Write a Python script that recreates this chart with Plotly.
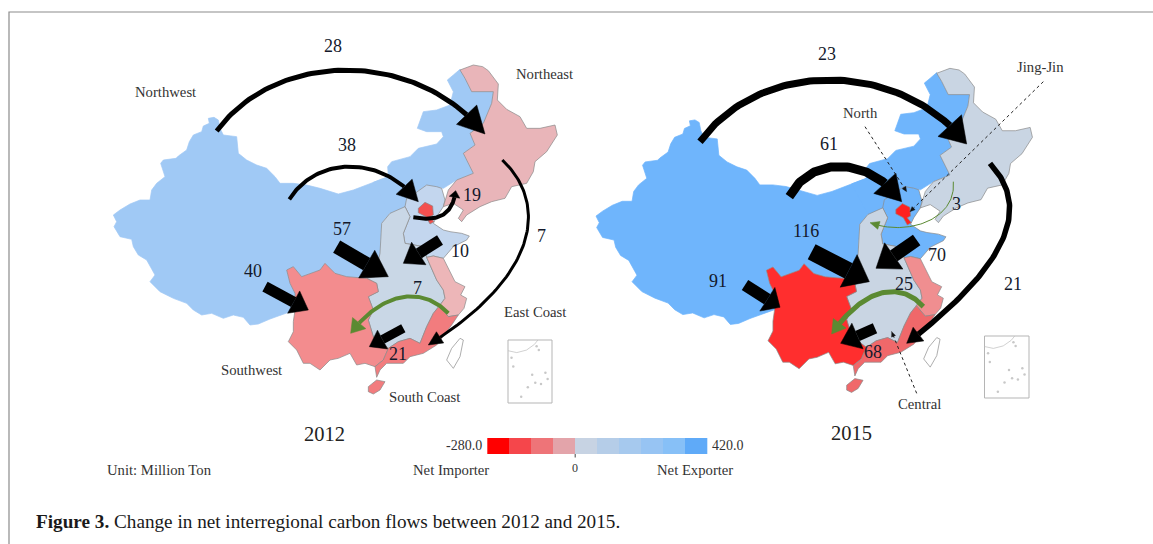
import numpy as np
import plotly.graph_objects as go

# ---------- region outlines (2012 panel, 3x crop units) ----------
northwest = [(372,292),(355,295),(358,310),(340,318),(335,335),(310,345),(298,365),(290,390),(265,408),(258,415),(220,420),(212,430),(225,470),(200,490),(185,510),(180,540),(150,540),(120,552),(90,570),(70,585),(80,605),(72,620),(90,650),(125,658),(130,680),(145,705),(170,720),(195,765),(180,785),(210,815),(250,835),(290,850),(310,870),(335,885),(365,880),(400,895),(430,885),(460,892),(480,915),(505,912),(540,897),(590,878),(615,870),(615,820),(600,790),(590,750),(610,740),(635,770),(665,760),(690,750),(705,730),(735,760),(770,770),(830,775),(855,770),(870,700),(875,610),(900,580),(945,560),(950,535),(895,470),(870,480),(830,495),(790,510),(745,522),(690,505),(650,495),(610,490),(570,490),(555,470),(530,445),(500,435),(470,420),(445,400),(440,350),(400,345),(390,325),(385,300)]
inner_mongolia = [(850,487),(895,470),(893,440),(905,425),(960,410),(985,385),(1040,372),(1060,350),(1055,335),(1010,335),(982,325),(1000,275),(1040,270),(1080,255),(1090,215),(1072,180),(1090,165),(1110,148),(1125,175),(1145,215),(1210,215),(1205,250),(1180,310),(1140,340),(1155,375),(1120,400),(1150,460),(1100,480),(1060,505),(1010,495),(975,520),(950,535),(945,560),(900,580)]
northeast = [(1110,150),(1150,135),(1178,140),(1195,152),(1225,192),(1222,240),(1250,268),(1290,290),(1310,325),(1350,325),(1395,315),(1402,345),(1370,395),(1335,425),(1330,455),(1310,490),(1265,500),(1245,535),(1205,545),(1170,560),(1130,585),(1115,605),(1105,595),(1120,570),(1090,550),(1060,560),(1075,510),(1100,480),(1150,460),(1120,400),(1155,375),(1140,340),(1180,310),(1205,250),(1210,215),(1145,215),(1125,175)]
hebei_shandong = [(950,535),(975,520),(1010,495),(1040,500),(1055,505),(1065,540),(1060,560),(1040,590),(1030,610),(1060,630),(1080,635),(1115,640),(1138,648),(1130,660),(1090,680),(1060,715),(1030,708),(1010,712),(1000,680),(945,670),(940,640),(960,590),(945,560)]
jingjin = [(985,565),(1005,547),(1028,558),(1030,585),(1020,590),(1032,605),(1020,612),(1008,590),(985,578)]
central = [(875,610),(900,580),(945,560),(960,590),(940,640),(945,670),(1000,680),(1010,712),(1040,780),(1060,810),(1065,835),(1048,858),(1030,880),(1010,920),(990,970),(960,955),(925,965),(895,985),(850,950),(835,900),(850,870),(835,830),(865,815),(860,790),(830,775),(855,770),(870,700)]
east_coast = [(1010,712),(1030,708),(1060,715),(1075,745),(1095,785),(1125,800),(1112,825),(1130,835),(1122,865),(1105,885),(1075,890),(1048,858),(1065,835),(1060,810),(1040,780)]
southwest = [(590,750),(610,740),(635,770),(665,760),(690,750),(705,730),(735,760),(770,770),(830,775),(860,790),(865,815),(835,830),(850,870),(835,900),(850,950),(895,985),(880,1020),(855,1040),(825,1030),(800,1035),(780,1000),(745,1015),(720,1020),(690,1050),(660,1030),(640,1030),(620,990),(595,965),(610,935),(610,905),(615,870),(615,820),(600,790)]
south_coast = [(1030,880),(1048,858),(1075,890),(1105,885),(1085,915),(1060,950),(1040,975),(1000,1000),(960,1010),(940,1030),(890,1030),(870,1050),(860,1072),(855,1040),(880,1020),(895,985),(925,965),(960,955),(990,970),(1010,920)]
hainan = [(835,1100),(860,1080),(885,1085),(870,1110),(850,1122),(835,1115)]
taiwan = [(1110,955),(1120,960),(1110,1010),(1090,1045),(1070,1020),(1085,985)]

regions = dict(northwest=northwest, inner_mongolia=inner_mongolia, hebei_shandong=hebei_shandong,
               central=central, northeast=northeast, east_coast=east_coast, southwest=southwest,
               south_coast=south_coast, hainan=hainan, jingjin=jingjin)

colors_2012 = dict(northwest="#a0c9f5", inner_mongolia="#a0c9f5", hebei_shandong="#c3d6ee", central="#c9d7e6",
                   northeast="#e9b5b9", east_coast="#edb6b8", southwest="#f38c8e", south_coast="#f27c7e",
                   hainan="#f27c7e", jingjin="#f4504f")
colors_2015 = dict(northwest="#6fb5fc", inner_mongolia="#6fb5fc", hebei_shandong="#6fb5fc", central="#c9d5e3",
                   northeast="#c9d5e3", east_coast="#f08e90", southwest="#ff2e2e", south_coast="#f0686a",
                   hainan="#f0686a", jingjin="#ff2020")
borderless = {"northwest", "inner_mongolia"}

# ---------- flows: (label, path in 3x crop units, width px, head length, head half-width, colour) ----------
BLACK, GREEN = "#000000", "#5b8a32"
flows_2012 = [
    ("28", [(380,333),(560,88),(980,88),(1185,342)], 5, 80, 42, BLACK),
    ("38", [(598,538),(680,406),(880,406),(985,545)], 4, 62, 33, BLACK),
    ("19", [(970,592),(1060,610),(1090,570),(1097,512)], 4, 20, 16, BLACK),
    ("7",  [(1237,420),(1365,540),(1365,755),(1015,975)], 3, 42, 20, BLACK),
    ("57", [(740,680),(895,770)], 14, 75, 48, BLACK),
    ("10", [(1050,660),(940,730)], 11, 55, 40, BLACK),
    ("40", [(525,800),(655,870)], 11, 50, 38, BLACK),
    ("21", [(940,925),(838,980)], 9, 45, 32, BLACK),
    ("7",  [(1075,880),(1000,800),(880,810),(782,940)], 4, 40, 26, GREEN),
]
flows_2015 = [
    ("23", [(330,365),(510,117),(930,117),(1130,372)], 7, 75, 48, BLACK),
    ("61", [(598,530),(660,407),(840,407),(935,545)], 9, 75, 45, BLACK),
    ("116",[(665,695),(838,785)], 17, 70, 55, BLACK),
    ("70", [(980,660),(858,745)], 13, 65, 48, BLACK),
    ("91", [(465,795),(570,862)], 12, 45, 42, BLACK),
    ("68", [(855,925),(752,970)], 11, 55, 42, BLACK),
    ("21", [(1200,430),(1302,540),(1302,700),(950,970)], 5.5, 45, 26, BLACK),
    ("25", [(1000,860),(940,790),(830,790),(725,942)], 5, 40, 24, GREEN),
    ("3",  [(1090,485),(1100,600),(950,650),(840,608)], 1, 28, 12, GREEN),
]
leaders_2015 = [[(825,320),(950,515)], [(1360,185),(960,575)], [(980,1120),(905,935)]]

# ---------- colour legend ----------
legend_edges = [-280,-210,-140,-70,0,70,140,210,280,350,420]
legend_colors = ["#ff0000","#f5464b","#ee7478","#e3a4aa","#c7d3e3","#b5cde8","#a6c9ee","#97c4f3","#87c0f7","#5faaf8"]

# ---------- text ----------
NUM = "#14192b"
LAB = "#333333"
labels_2012 = [("28",730,78),("38",770,375),("19",1145,525),("57",755,627),("10",1110,692),("7",1355,648),("40",490,752),("7",982,805),("21",925,1002)]
names_2012 = [("Northwest",225,215),("Northeast",1363,163),("East Coast",1335,875),("Southwest",485,1050),("South Coast",1003,1132)]
labels_2015 = [("23",712,103),("61",717,372),("116",648,632),("91",384,782),("70",1042,706),("25",942,793),("3",1100,553),("21",1270,792),("68",848,995)]
names_2015 = [("North",810,280),("Jing-Jin",1352,140),("Central",988,1153)]

def p12(pts):
    a = np.array(pts, float)
    return a[:,0]/3 + 90, a[:,1]/3 + 20

def map15(pts):
    a = np.array(pts, float)
    return (18 + 0.983*(a[:,0]-70))/3 + 590, (145 + 0.985*(a[:,1]-135))/3 + 20

def p15(pts):
    a = np.array(pts, float)
    return a[:,0]/3 + 590, a[:,1]/3 + 20

def curve(pts, n=80):
    pts = np.array(pts, float)
    if len(pts) == 2:
        return pts
    t = np.linspace(0, 1, n)[:,None]
    return ((1-t)**3)*pts[0] + 3*((1-t)**2)*t*pts[1] + 3*(1-t)*t*t*pts[2] + (t**3)*pts[3]

fig = go.Figure()

def poly(x, y, fill, line="#8a8a8a", w=0.7):
    fig.add_trace(go.Scatter(x=list(x), y=list(y), mode="lines", fill="toself", fillcolor=fill,
                             line=dict(color=line, width=w), hoverinfo="skip", showlegend=False))

def draw_map(conv, colors):
    for k, pts in regions.items():
        x, y = conv(pts)
        line = colors[k] if k in borderless else "#8a8a8a"
        poly(np.r_[x, x[0]], np.r_[y, y[0]], colors[k], line)
    x, y = conv(taiwan)
    poly(np.r_[x, x[0]], np.r_[y, y[0]], "#ffffff", "#999999", 0.8)

def draw_flow(conv, flow):
    _, path, width, hl, hw, col = flow
    x, y = conv(path)
    s = curve(np.c_[x, y])
    hl, hw = hl/3, hw/3
    d = np.r_[0, np.cumsum(np.hypot(*np.diff(s, axis=0).T))]
    keep = d <= d[-1] - hl
    base = np.array([np.interp(d[-1]-hl, d, s[:,0]), np.interp(d[-1]-hl, d, s[:,1])])
    shaft = np.vstack([s[keep], base])
    fig.add_trace(go.Scatter(x=shaft[:,0], y=shaft[:,1], mode="lines", line=dict(color=col, width=width),
                             hoverinfo="skip", showlegend=False))
    tip = s[-1]
    u = (tip-base)/np.hypot(*(tip-base))
    n = np.array([-u[1], u[0]])
    tri = np.array([tip, base+n*hw, base-n*hw, tip])
    poly(tri[:,0], tri[:,1], col, col, 0.5)

def draw_inset(x0, y0, x1, y1):
    fig.add_trace(go.Scatter(x=[x0,x1,x1,x0,x0], y=[y0,y0,y1,y1,y0], mode="lines",
                             line=dict(color="#b5b5b5", width=1), hoverinfo="skip", showlegend=False))
    w, h = x1-x0, y1-y0
    fx = [0,.2,.42,.6,.68]; fy = [.17,.2,.16,.07,0]
    fig.add_trace(go.Scatter(x=[x0+a*w for a in fx], y=[y0+b*h for b in fy], mode="lines",
                             line=dict(color="#bdbdbd", width=0.7), hoverinfo="skip", showlegend=False))
    ix = [.08,.65,.7,.85,.9,.62,.75,.3,.12,.55,.45]; iy = [.28,.1,.16,.52,.62,.68,.7,.9,.42,.55,.75]
    fig.add_trace(go.Scatter(x=[x0+a*w for a in ix], y=[y0+b*h for b in iy], mode="markers",
                             marker=dict(color="#c8c8c8", size=2.5), hoverinfo="skip", showlegend=False))

draw_map(p12, colors_2012)
draw_map(map15, colors_2015)
draw_inset(508, 340, 552, 403)
draw_inset(984.5, 336, 1029, 398)
for f in flows_2012:
    draw_flow(p12, f)
for f in flows_2015:
    draw_flow(p15, f)

for ld in leaders_2015:
    x, y = p15(ld)
    fig.add_trace(go.Scatter(x=x, y=y, mode="lines", line=dict(color="#222222", width=1, dash="3px,3px"),
                             hoverinfo="skip", showlegend=False))
    tip = np.array([x[1], y[1]]); u = tip-np.array([x[0],y[0]]); u = u/np.hypot(*u); n = np.array([-u[1],u[0]])
    b = tip-u*5
    tri = np.array([tip, b+n*2.2, b-n*2.2, tip])
    poly(tri[:,0], tri[:,1], "#111111", "#111111", 0.3)

lx0, lx1 = 487.3, 707.0
lscale = (lx1-lx0)/(legend_edges[-1]-legend_edges[0])
ledge = [lx0 + (v-legend_edges[0])*lscale for v in legend_edges]
n = len(legend_colors)
cs = []
for i, c in enumerate(legend_colors):
    cs += [[i/n, c], [(i+1)/n, c]]
fig.add_trace(go.Heatmap(x=ledge, y=[438, 454], z=[[i+0.5 for i in range(n)]], zmin=0, zmax=n, colorscale=cs,
                         showscale=False, hoverinfo="skip", zsmooth=False))
zx = lx0 + 280*lscale
fig.add_trace(go.Scatter(x=[zx,zx], y=[454,457.5], mode="lines", line=dict(color="#444444", width=1),
                         hoverinfo="skip", showlegend=False))

fig.add_trace(go.Scatter(x=[9,9,1153], y=[544,12,12], mode="lines", line=dict(color="#8c8c8c", width=1.2),
                         hoverinfo="skip", showlegend=False))

anns = []
def T(s, x, y, size, col=LAB, xa="center"):
    anns.append(dict(text=s, x=x, y=y, xref="x", yref="y", showarrow=False, xanchor=xa, yanchor="middle",
                     font=dict(family="Liberation Serif", size=size, color=col)))
for s, x, y in labels_2012:
    T(s, x/3+90, y/3+20, 18, NUM)
for s, x, y in names_2012:
    T(s, x/3+90, y/3+20, 14.7, LAB)
for s, x, y in labels_2015:
    T(s, x/3+590, y/3+20, 18, NUM)
for s, x, y in names_2015:
    T(s, x/3+590, y/3+20, 14.7, LAB)
T("2012", 324.5, 433.5, 20.5, "#222222")
T("2015", 851.5, 432.5, 20.5, "#222222")
T("-280.0", 484, 445.5, 14, LAB, "right")
T("420.0", 710, 445.5, 14, LAB, "left")
T("Net Importer", 450.5, 470, 14.7, LAB)
T("0", 575, 468, 12, LAB)
T("Net Exporter", 695, 470, 14.7, LAB)
T("Unit: Million Ton", 159.5, 469.5, 14.7, LAB)
T("<b>Figure 3.</b> Change in net interregional carbon flows between 2012 and 2015.", 34, 521.5, 19.2, "#1a1a1a", "left")

fig.update_layout(width=1153, height=544, margin=dict(l=0, r=0, t=0, b=0), paper_bgcolor="white", plot_bgcolor="white",
                  showlegend=False, annotations=anns,
                  xaxis=dict(range=[0,1153], visible=False, fixedrange=True),
                  yaxis=dict(range=[544,0], visible=False, fixedrange=True))
fig.write_html("out.html", config={"displayModeBar": False},
               post_script="document.body.style.margin='0';document.body.style.overflow='hidden';")
